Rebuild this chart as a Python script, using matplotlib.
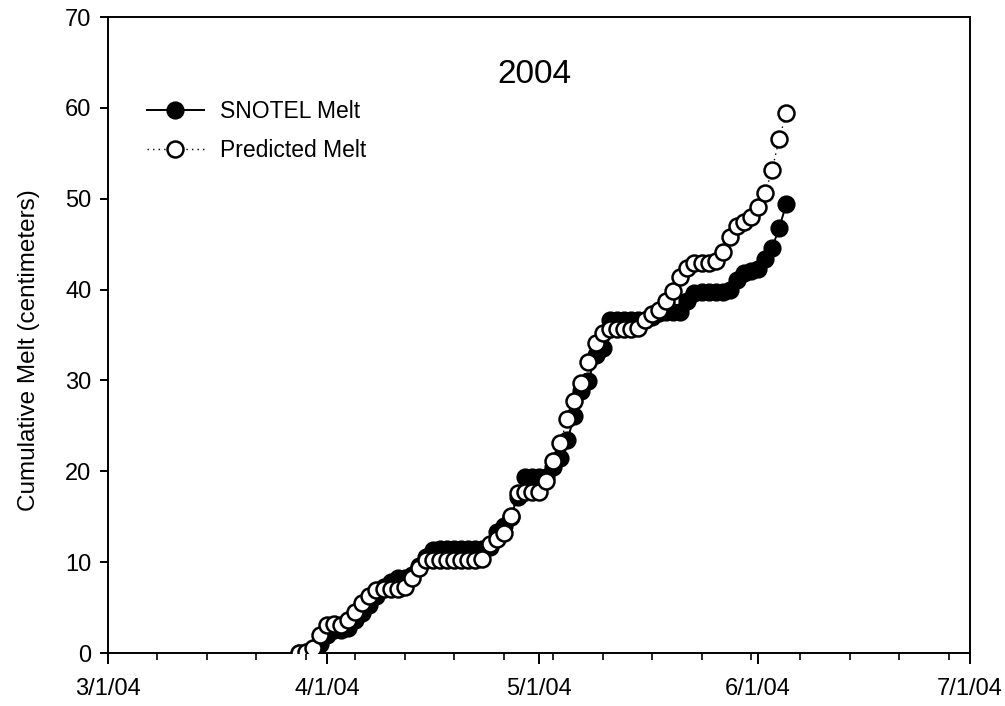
import matplotlib
matplotlib.use("Agg")
import matplotlib.pyplot as plt
import pandas as pd

plt.rcParams['font.family'] = ['Liberation Sans', 'DejaVu Sans']

# ---- data ----
start_date = "2004-03-28"
snotel_melt = [0.0, 0.0, 0.3, 1.0,
               2.0, 2.5, 2.5, 2.8, 3.6, 4.4, 5.3, 6.3, 7.3, 7.8,
               8.2, 8.3, 8.6, 9.6, 10.6, 11.3, 11.5, 11.5, 11.5, 11.5,
               11.5, 11.5, 11.5, 11.7, 13.3, 14.0, 15.0, 17.2, 19.4, 19.4,
               19.4, 19.4, 20.5, 21.5, 23.4, 26.1, 28.8, 29.9, 32.8, 33.6,
               36.6, 36.6, 36.6, 36.6, 36.6, 36.6, 37.0, 37.4, 37.5, 37.5,
               37.5, 38.7, 39.6, 39.7, 39.7, 39.7, 39.7, 39.9, 41.1, 41.8,
               42.0, 42.3, 43.4, 44.6, 46.8, 49.4]
predicted_melt = [0.0, 0.1, 0.6, 2.0,
                  3.1, 3.2, 3.1, 3.6, 4.5, 5.5, 6.3, 6.9, 7.0, 7.0,
                  7.0, 7.3, 8.3, 9.4, 10.2, 10.2, 10.2, 10.2, 10.2, 10.2,
                  10.2, 10.2, 10.4, 12.0, 12.5, 13.2, 15.1, 17.6, 17.7, 17.7,
                  17.7, 18.9, 21.1, 23.1, 25.7, 27.7, 29.7, 32.0, 34.1, 35.2,
                  35.7, 35.7, 35.7, 35.7, 35.8, 36.6, 37.3, 37.8, 38.7, 39.8,
                  41.4, 42.4, 42.9, 42.9, 42.9, 43.1, 44.1, 45.8, 47.0, 47.4,
                  48.0, 49.1, 50.6, 53.2, 56.6, 59.4]
dates = pd.date_range(start_date, periods=len(snotel_melt), freq="D")

xtick_dates = ["2004-03-01", "2004-04-01", "2004-05-01", "2004-06-01", "2004-07-01"]
xtick_labels = ["3/1/04", "4/1/04", "5/1/04", "6/1/04", "7/1/04"]
yticks = [0, 10, 20, 30, 40, 50, 60, 70]

# ---- figure ----
fig = plt.figure(figsize=(10.05, 7.06), dpi=100)
ax = fig.add_axes([108/1005, 1-653/706, 862/1005, 636/706])

ax.plot(dates, snotel_melt, color='black', lw=1.4, ls='-', marker='o',
        ms=11.5, mfc='black', mec='black', mew=1.6, label='SNOTEL Melt', zorder=3)
ax.plot(dates, predicted_melt, color='black', lw=1.0, ls=(0, (1, 3)), marker='o',
        ms=11.5, mfc='white', mec='black', mew=1.8, label='Predicted Melt', zorder=4)

xt = pd.to_datetime(xtick_dates)
ax.set_xlim(xt[0], xt[-1])
ax.set_xticks(xt)
ax.set_xticklabels(xtick_labels)
ax.set_xticks(pd.date_range(xtick_dates[0], xtick_dates[-1], freq="7D"), minor=True)
ax.set_ylim(0, 70)
ax.set_yticks(yticks)

ax.tick_params(axis='both', which='major', labelsize=17, direction='out', width=1.4, color='black')
ax.tick_params(axis='x', which='major', length=8, pad=10)
ax.tick_params(axis='x', which='minor', length=5, width=1.2, direction='out')
ax.tick_params(axis='y', which='major', length=6, pad=6)
ax.tick_params(top=False, right=False)
for s in ax.spines.values():
    s.set_linewidth(1.4)

ax.set_ylabel('Cumulative Melt (centimeters)', fontsize=17.5)
ax.yaxis.set_label_coords(-0.079, 0.476)
ax.text(0.495, 0.91, '2004', transform=ax.transAxes, fontsize=24,
        ha='center', va='center')

ax.legend(loc='upper left', bbox_to_anchor=(0.045, 0.869), frameon=False,
          fontsize=16.5, handlelength=2.5, handletextpad=0.7, labelspacing=0.68,
          borderpad=0, borderaxespad=0)

fig.savefig('out.png', dpi=100)
